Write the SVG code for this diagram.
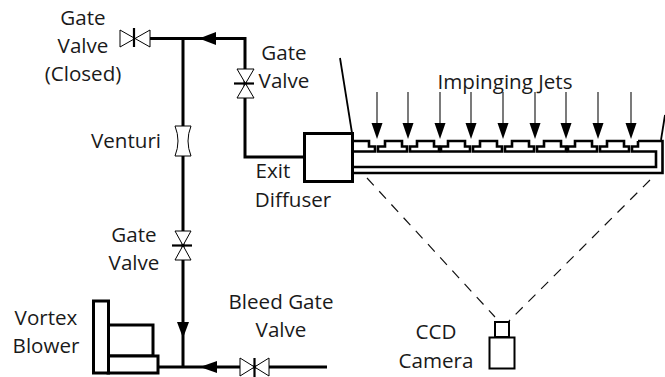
<svg xmlns="http://www.w3.org/2000/svg" width="665" height="377" viewBox="0 0 665 377">
<defs>
<style>
text{font-family:"Open Sans","Noto Sans",sans-serif;font-size:20.6px;fill:#1a1a1a;text-anchor:middle}
.pipe{fill:none;stroke:#000;stroke-width:3}
.thin{fill:#fff;stroke:#000;stroke-width:1}
.stem{stroke:#000;stroke-width:2.2;fill:none}
.box{fill:#fff;stroke:#000;stroke-width:3}
.wall{fill:none;stroke:#000;stroke-width:2.6}
.edge{fill:none;stroke:#000;stroke-width:1.8}
.jet{stroke:#333;stroke-width:1.3;fill:none}
.head{fill:#000;stroke:none}
.dash{fill:none;stroke:#111;stroke-width:1.2;stroke-dasharray:10 8}
</style>
<g id="nz"><path d="M0 10.500V5.500H7V0H24V5.500H29V10.500Z" class="wall"/></g>
<g id="ar"><path class="jet" d="M0 0V32"/><path class="head" d="M-5.500 31H5.500L0 47Z"/></g>
</defs>
<g id="connectors">
<path class="pipe" d="M150 38.500H245V157H304"/>
<path class="pipe" d="M183 38V367"/>
<path class="pipe" d="M158 367H327"/>
<path class="head" d="M199 38.500L216 32V45Z"/>
<path class="head" d="M177 322H189L183 338Z"/>
<path class="head" d="M200 367L217 361V373Z"/>
<path class="dash" d="M367 178L495 317"/>
<path class="dash" d="M650 180L509 321"/>
</g>
<g id="valve-closed">
<path class="thin" d="M120 30L150 47V30L120 47Z"/>
<path class="stem" d="M134 28V47"/>
</g>
<g id="valve-upper">
<path class="thin" d="M237 69H254L237 98H254Z"/>
<path class="stem" d="M234 83.500H254"/>
</g>
<g id="venturi">
<path class="thin" d="M175 126H191Q185 141 191 156H175Q181 141 175 126Z"/>
</g>
<g id="valve-lower">
<path class="thin" d="M175 231H191L175 260H191Z"/>
<path class="stem" d="M172 245.500H192"/>
</g>
<g id="valve-bleed">
<path class="thin" d="M240 358L269 376V358L240 376Z"/>
<path class="stem" d="M254.500 358V377"/>
</g>
<g id="blower">
<rect class="box" x="108" y="325" width="45" height="31"/>
<rect class="box" x="108" y="356" width="50" height="17"/>
<rect class="box" x="93.500" y="301" width="15" height="72"/>
</g>
<g id="test-section">
<path class="edge" d="M340 58L352 133"/>
<path class="edge" d="M665 115L661 140"/>
<path class="wall" d="M352 141H369V146.500H375V151.500H352Z"/>
<use href="#nz" x="378" y="141"/>
<use href="#nz" x="410" y="141"/>
<use href="#nz" x="441" y="141"/>
<use href="#nz" x="473" y="141"/>
<use href="#nz" x="505" y="141"/>
<use href="#nz" x="537" y="141"/>
<use href="#nz" x="568" y="141"/>
<use href="#nz" x="600" y="141"/>
<path class="wall" d="M638 141H662.500V173H352M352 167H656V151.500H632V146.500H638V141"/>
</g>
<g id="diffuser"><rect class="box" x="304.500" y="133.500" width="48" height="48"/></g>
<g id="jets">
<use href="#ar" x="377" y="92"/>
<use href="#ar" x="408" y="92"/>
<use href="#ar" x="440" y="92"/>
<use href="#ar" x="471" y="92"/>
<use href="#ar" x="503" y="92"/>
<use href="#ar" x="535" y="92"/>
<use href="#ar" x="566" y="92"/>
<use href="#ar" x="598" y="92"/>
<use href="#ar" x="631" y="92"/>
</g>
<g id="camera">
<rect x="495" y="322" width="14" height="15" fill="#fff" stroke="#000" stroke-width="2"/>
<rect x="489.500" y="337.500" width="25" height="31" fill="#fff" stroke="#000" stroke-width="2"/>
</g>
<g id="labels">
<text x="83" y="25">Gate</text><text x="83" y="53">Valve</text><text x="83" y="81">(Closed)</text>
<text x="284" y="60">Gate</text><text x="284" y="88">Valve</text>
<text x="126" y="148">Venturi</text>
<text x="273" y="178">Exit</text><text x="293" y="207">Diffuser</text>
<text x="134" y="242">Gate</text><text x="134" y="270">Valve</text>
<text x="46" y="325">Vortex</text><text x="46" y="353">Blower</text>
<text x="281" y="309">Bleed Gate</text><text x="281" y="337">Valve</text>
<text x="505" y="89">Impinging Jets</text>
<text x="436" y="339">CCD</text><text x="436" y="368">Camera</text>
</g>
</svg>
